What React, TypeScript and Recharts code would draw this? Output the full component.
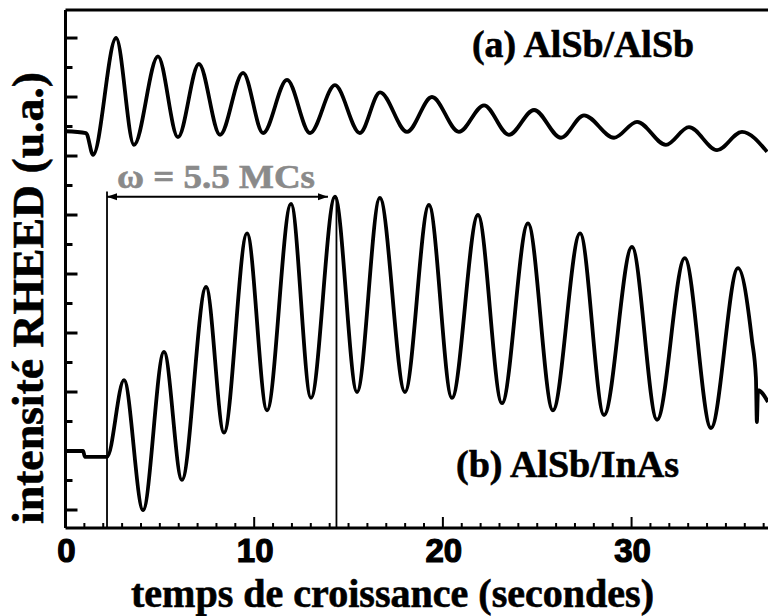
import { LineChart, Line, XAxis, YAxis, ReferenceLine } from "recharts";

// growth time (s) and RHEED intensity (a.u.)
const timeA = [0, 1.09, 1.46, 2.68, 3.63, 4.9, 5.96, 7.07, 8.19, 9.41, 10.47, 11.74, 12.96, 14.28, 15.6, 16.67, 18.1, 19.42, 20.85, 22.18, 23.5, 24.83, 26.26, 27.48, 29.07, 30.29, 31.82, 33.04, 34.53, 35.85, 37.18];
const intensityA = [7.42, 7.39, 7.02, 9.0, 7.19, 8.69, 7.32, 8.56, 7.36, 8.41, 7.39, 8.29, 7.39, 8.2, 7.39, 8.08, 7.41, 8.0, 7.41, 7.86, 7.36, 7.78, 7.31, 7.69, 7.31, 7.58, 7.19, 7.49, 7.1, 7.41, 7.07];

const timeB = [0, 0.93, 1.03, 2.2, 3.1, 4.11, 5.22, 6.17, 7.45, 8.4, 9.62, 10.68, 11.95, 13.01, 14.28, 15.45, 16.66, 17.99, 19.26, 20.48, 21.86, 23.13, 24.51, 25.83, 27.27, 28.54, 30.02, 31.35, 32.82, 34.21, 35.64, 36.38, 36.59, 36.64, 36.7, 37.23];
const intensityB = [2.0, 2.0, 1.9, 1.9, 3.2, 1.0, 3.68, 1.51, 4.78, 2.31, 5.69, 2.69, 6.19, 2.9, 6.31, 3.0, 6.29, 3.0, 6.17, 2.9, 6.0, 2.81, 5.86, 2.69, 5.69, 2.61, 5.46, 2.53, 5.27, 2.39, 5.1, 3.88, 3.24, 2.49, 3.03, 2.83];

const xTicks = Array.from({ length: 38 }, (_, i) => i);
const xLabels = [0, 10, 20, 30];
const yTicks = [1, 1.5, 2, 2.5, 3, 3.5, 4, 4.5, 5, 5.5, 6, 6.5, 7, 7.5, 8, 8.5, 9];

// the period marker: start, end and height of the arrow
const markStart = 2.2;
const markEnd = 14.36;
const arrowEnd = 13.91;
const arrowLevel = 6.31;

const curveA = timeA.map((t, i) => ({ t, v: intensityA[i] }));
const curveB = timeB.map((t, i) => ({ t, v: intensityB[i] }));

const SERIF = "'Liberation Serif', 'Times New Roman', serif";
const SANS = "'Liberation Sans', Arial, sans-serif";

function BottomTick({ x, y, payload }: any) {
  const major = payload.value % 10 === 0;
  return (
    <g>
      <line x1={x} x2={x} y1={y} y2={y - (major ? 11 : 5)} stroke="#000" strokeWidth={2} />
      {xLabels.includes(payload.value) && (
        <text
          x={x + 1}
          y={y + 34}
          textAnchor="middle"
          fontFamily={SANS}
          fontWeight="bold"
          fontSize={33}
          fill="#000"
          stroke="#000"
          strokeWidth={1.2}
        >
          {payload.value}
        </text>
      )}
    </g>
  );
}

function TopTick({ x, y }: any) {
  return <line x1={x} x2={x} y1={y} y2={y + 3} stroke="#555" strokeWidth={1} />;
}

function LeftTick({ x, y, payload }: any) {
  const major = Number.isInteger(payload.value);
  return <line x1={x} x2={x + (major ? 12 : 7)} y1={y} y2={y} stroke="#000" strokeWidth={3} />;
}

function ArrowShape(props: any) {
  const { x1, y1, x2, y2 } = props;
  return (
    <g>
      <line x1={x1} y1={y1} x2={x2} y2={y2} stroke="#000" strokeWidth={1.8} />
      <polygon points={`${x1},${y1} ${x1 + 10},${y1 - 3.5} ${x1 + 10},${y1 + 3.5}`} fill="#000" />
      <polygon points={`${x2},${y2} ${x2 - 10},${y2 - 3.5} ${x2 - 10},${y2 + 3.5}`} fill="#000" />
    </g>
  );
}

const textStyle = { fontFamily: SERIF, fontWeight: "bold" as const };

export default function App() {
  return (
    <div style={{ position: "absolute", left: 0, top: 0, width: 768, height: 616, overflow: "hidden", background: "#fff" }}>
      <LineChart width={768} height={616} margin={{ top: 0, right: 0, bottom: 58, left: 5.5 }}>
        <XAxis
          xAxisId="b"
          type="number"
          dataKey="t"
          domain={[0, 37.23]}
          ticks={xTicks}
          interval={0}
          height={30}
          tickSize={0}
          tickMargin={0}
          tickLine={false}
          tick={<BottomTick />}
          axisLine={{ stroke: "#000", strokeWidth: 3 }}
          allowDataOverflow
        />
        <XAxis
          xAxisId="top"
          orientation="top"
          type="number"
          domain={[0, 37.23]}
          ticks={xTicks}
          interval={0}
          height={10}
          tickSize={0}
          tickMargin={0}
          tickLine={false}
          tick={<TopTick />}
          axisLine={{ stroke: "#000", strokeWidth: 3 }}
          allowDataOverflow
        />
        <YAxis
          yAxisId="l"
          type="number"
          domain={[0.695, 9.475]}
          ticks={yTicks}
          interval={0}
          width={60}
          tickSize={0}
          tickMargin={0}
          tickLine={false}
          tick={<LeftTick />}
          axisLine={{ stroke: "#000", strokeWidth: 3 }}
          allowDataOverflow
        />
        <Line xAxisId="b" yAxisId="l" data={curveA} dataKey="v" type="monotone" stroke="#000" strokeWidth={3.8} dot={false} isAnimationActive={false} />
        <Line xAxisId="b" yAxisId="l" data={curveB} dataKey="v" type="monotone" stroke="#000" strokeWidth={3.8} dot={false} isAnimationActive={false} />
        <ReferenceLine xAxisId="b" yAxisId="l" segment={[{ x: markStart, y: 6.4 }, { x: markStart, y: 0.695 }]} stroke="#000" strokeWidth={1.8} />
        <ReferenceLine xAxisId="b" yAxisId="l" segment={[{ x: markEnd, y: 6.3 }, { x: markEnd, y: 0.695 }]} stroke="#000" strokeWidth={1.8} />
        <ReferenceLine xAxisId="b" yAxisId="l" segment={[{ x: markStart, y: arrowLevel }, { x: arrowEnd, y: arrowLevel }]} shape={<ArrowShape />} />
        <text x={472} y={57} textLength={222} lengthAdjust="spacingAndGlyphs" {...textStyle} fontSize={38} fill="#000" stroke="#000" strokeWidth={0.6}>
          (a) AlSb/AlSb
        </text>
        <text x={456} y={477} textLength={223} lengthAdjust="spacingAndGlyphs" {...textStyle} fontSize={38} fill="#000" stroke="#000" strokeWidth={0.6}>
          (b) AlSb/InAs
        </text>
        <text x={117} y={188} textLength={198} lengthAdjust="spacingAndGlyphs" {...textStyle} fontSize={34} fill="#8a8a8a" stroke="#8a8a8a" strokeWidth={0.6}>
          ω = 5.5 MCs
        </text>
        <text x={131} y={607} textLength={523} lengthAdjust="spacingAndGlyphs" {...textStyle} fontSize={39} fill="#000" stroke="#000" strokeWidth={0.6}>
          temps de croissance (secondes)
        </text>
        <text
          transform="translate(43, 524) rotate(-90)"
          x={0}
          y={0}
          textLength={452}
          lengthAdjust="spacingAndGlyphs"
          {...textStyle}
          fontSize={44}
          fill="#000"
          stroke="#000"
          strokeWidth={0.6}
        >
          intensité RHEED (u.a.)
        </text>
      </LineChart>
    </div>
  );
}
